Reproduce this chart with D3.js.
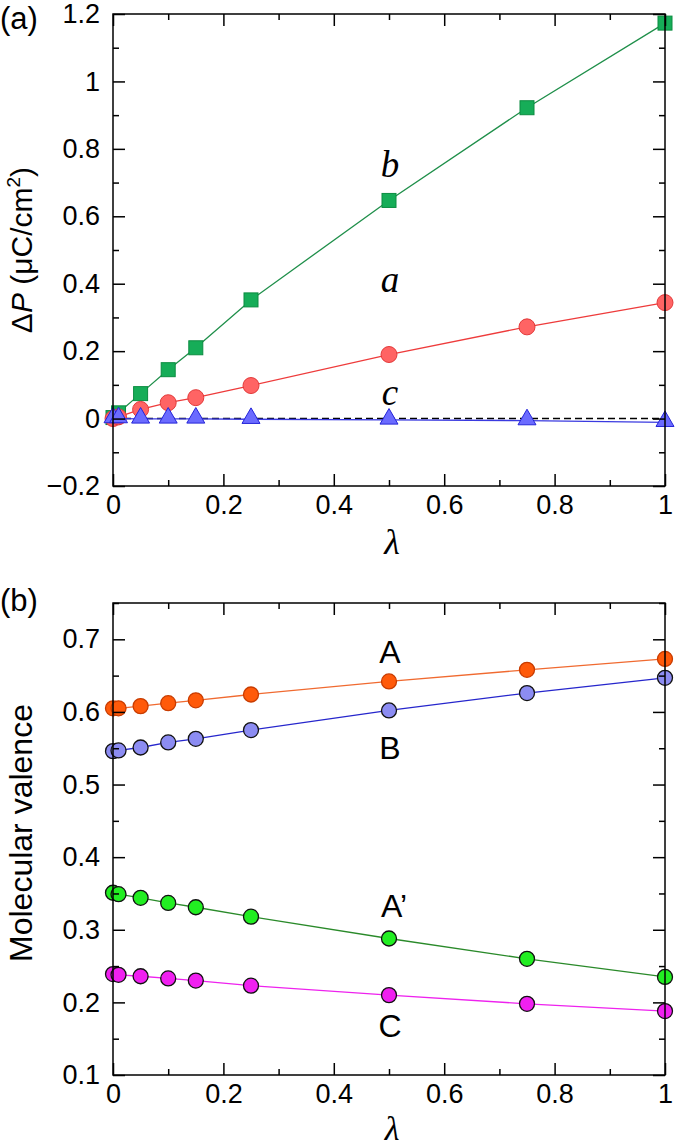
<!DOCTYPE html>
<html>
<head>
<meta charset="utf-8">
<script src="https://cdn.jsdelivr.net/npm/d3@7"></script>
<style>
  body { margin: 0; background: #fff; }
  svg text { font-family: "Liberation Sans", Arial, sans-serif; fill: #000; }
  .tick line { stroke: #000; stroke-width: 1.5; }
  .tick text { font-size: 27px; }
  .serif { font-family: "Liberation Serif", "Times New Roman", serif; font-style: italic; }
</style>
</head>
<body>
<div id="chart"></div>
<script>
// lambda values shared by all series
const lambda = [0, 0.01, 0.05, 0.1, 0.15, 0.25, 0.5, 0.75, 1];

// panel (a): polarization change
const dpA = [0, 0.005, 0.027, 0.047, 0.062, 0.098, 0.19, 0.272, 0.344];
const dpB = [0.003, 0.017, 0.074, 0.145, 0.21, 0.352, 0.647, 0.922, 1.173];
const dpC = [0, 0, -0.001, -0.001, -0.001, -0.002, -0.004, -0.006, -0.011];

// panel (b): molecular valence
const valA = [0.605, 0.605, 0.608, 0.612, 0.616, 0.624, 0.642, 0.658, 0.673];
const valB = [0.546, 0.547, 0.551, 0.558, 0.563, 0.575, 0.602, 0.626, 0.647];
const valA2 = [0.351, 0.349, 0.344, 0.337, 0.331, 0.318, 0.288, 0.260, 0.235];
const valC = [0.239, 0.238, 0.236, 0.233, 0.230, 0.223, 0.210, 0.198, 0.188];

const xTicks = [0, 0.2, 0.4, 0.6, 0.8, 1];
const xMinor = [0.1, 0.3, 0.5, 0.7, 0.9];
const yTicksA = [-0.2, 0, 0.2, 0.4, 0.6, 0.8, 1, 1.2];
const yMinorA = [-0.1, 0.1, 0.3, 0.5, 0.7, 0.9, 1.1];
const yTicksB = [0.1, 0.2, 0.3, 0.4, 0.5, 0.6, 0.7];
const yMinorB = [0.15, 0.25, 0.35, 0.45, 0.55, 0.65, 0.75];

const svg = d3.select('#chart').append('svg')
  .attr('width', 675)
  .attr('height', 1148);

const left = 113, right = 665;

function drawFrame(g, x, y, yTicks, yMinor, yFmt) {
  const w = right - left;
  const [y0, y1] = y.range();
  const h = y0 - y1;

  // bottom
  g.append('g').attr('transform', `translate(0,${y0})`)
    .call(d3.axisBottom(x).tickValues(xTicks).tickSize(-12).tickPadding(9).tickFormat(d3.format('')))
    .call((a) => a.select('.domain').remove());
  g.append('g').attr('transform', `translate(0,${y0})`)
    .call(d3.axisBottom(x).tickValues(xMinor).tickSize(-6).tickFormat(''))
    .call((a) => a.select('.domain').remove());
  // top
  g.append('g').attr('transform', `translate(0,${y1})`)
    .call(d3.axisTop(x).tickValues(xTicks).tickSize(-12).tickFormat(''))
    .call((a) => a.select('.domain').remove());
  g.append('g').attr('transform', `translate(0,${y1})`)
    .call(d3.axisTop(x).tickValues(xMinor).tickSize(-6).tickFormat(''))
    .call((a) => a.select('.domain').remove());
  // left
  g.append('g').attr('transform', `translate(${left},0)`)
    .call(d3.axisLeft(y).tickValues(yTicks).tickSize(-12).tickPadding(13).tickFormat(yFmt))
    .call((a) => a.select('.domain').remove());
  g.append('g').attr('transform', `translate(${left},0)`)
    .call(d3.axisLeft(y).tickValues(yMinor).tickSize(-6).tickFormat(''))
    .call((a) => a.select('.domain').remove());
  // right
  g.append('g').attr('transform', `translate(${right},0)`)
    .call(d3.axisRight(y).tickValues(yTicks).tickSize(-12).tickFormat(''))
    .call((a) => a.select('.domain').remove());
  g.append('g').attr('transform', `translate(${right},0)`)
    .call(d3.axisRight(y).tickValues(yMinor).tickSize(-6).tickFormat(''))
    .call((a) => a.select('.domain').remove());

  g.append('rect')
    .attr('x', left).attr('y', y1)
    .attr('width', w).attr('height', h)
    .attr('fill', 'none').attr('stroke', '#000').attr('stroke-width', 1.5);
}

function drawLine(g, x, y, values, color) {
  const line = d3.line().x((d, i) => x(lambda[i])).y((d) => y(d));
  g.append('path').datum(values)
    .attr('d', line)
    .attr('fill', 'none')
    .attr('stroke', color)
    .attr('stroke-width', 1.3);
}

// ---------- panel (a) ----------
const xA = d3.scaleLinear().domain([0, 1]).range([left, right]);
const yA = d3.scaleLinear().domain([-0.2, 1.2]).range([486, 14]);
const gA = svg.append('g');

gA.append('line')
  .attr('x1', xA(0)).attr('x2', xA(1))
  .attr('y1', yA(0)).attr('y2', yA(0))
  .attr('stroke', '#000').attr('stroke-width', 1.5)
  .attr('stroke-dasharray', '7,4');

drawLine(gA, xA, yA, dpB, '#1f8f4a');
gA.selectAll('.sq').data(dpB).enter().append('rect')
  .attr('x', (d, i) => xA(lambda[i]) - 7)
  .attr('y', (d) => yA(d) - 7)
  .attr('width', 14).attr('height', 14)
  .attr('fill', '#16ad58').attr('stroke', '#0b8c40').attr('stroke-width', 1);

drawLine(gA, xA, yA, dpA, '#ee3b3b');
gA.selectAll('.ci').data(dpA).enter().append('circle')
  .attr('cx', (d, i) => xA(lambda[i]))
  .attr('cy', (d) => yA(d))
  .attr('r', 8)
  .attr('fill', '#ff6464').attr('stroke', '#e23a3a').attr('stroke-width', 1);

drawLine(gA, xA, yA, dpC, '#3a3ae0');
const tri = d3.symbol().type(d3.symbolTriangle).size(140);
gA.selectAll('.tr').data(dpC).enter().append('path')
  .attr('d', tri)
  .attr('transform', (d, i) => `translate(${xA(lambda[i])},${yA(d) - 1})`)
  .attr('fill', '#6b6bff').attr('stroke', '#2424d8').attr('stroke-width', 1);

drawFrame(gA, xA, yA, yTicksA, yMinorA, d3.format(''));

gA.append('text').attr('class', 'serif').attr('x', 390).attr('y', 177)
  .attr('text-anchor', 'middle').attr('font-size', 37).text('b');
gA.append('text').attr('class', 'serif').attr('x', 390).attr('y', 292)
  .attr('text-anchor', 'middle').attr('font-size', 37).text('a');
gA.append('text').attr('class', 'serif').attr('x', 390).attr('y', 405)
  .attr('text-anchor', 'middle').attr('font-size', 37).text('c');

gA.append('text').attr('class', 'serif').attr('x', 392).attr('y', 554)
  .attr('text-anchor', 'middle').attr('font-size', 36).text('λ');

const ylabA = gA.append('text')
  .attr('transform', 'translate(32,250) rotate(-90)')
  .attr('text-anchor', 'middle').attr('font-size', 30);
ylabA.append('tspan').text('Δ');
ylabA.append('tspan').attr('font-style', 'italic').text('P');
ylabA.append('tspan').text(' (μC/cm');
ylabA.append('tspan').attr('font-size', 19).attr('dy', -12).text('2');
ylabA.append('tspan').attr('dy', 12).text(')');

gA.append('text').attr('x', 0).attr('y', 29).attr('font-size', 31).text('(a)');

// ---------- panel (b) ----------
const xB = d3.scaleLinear().domain([0, 1]).range([left, right]);
const yB = d3.scaleLinear().domain([0.1, 0.75]).range([1075, 603]);
const gB = svg.append('g');

const seriesB = [
  { v: valA, line: '#f06a30', fill: '#ff5a0a', edge: '#c83c00' },
  { v: valB, line: '#2626cc', fill: '#8c8cf2', edge: '#111' },
  { v: valA2, line: '#2a8a2a', fill: '#22ee22', edge: '#111' },
  { v: valC, line: '#ee22ee', fill: '#f020f0', edge: '#111' },
];

seriesB.forEach((s) => {
  drawLine(gB, xB, yB, s.v, s.line);
  gB.append('g').selectAll('circle').data(s.v).enter().append('circle')
    .attr('cx', (d, i) => xB(lambda[i]))
    .attr('cy', (d) => yB(d))
    .attr('r', 7.5)
    .attr('fill', s.fill)
    .attr('stroke', s.edge)
    .attr('stroke-width', 1.3);
});

drawFrame(gB, xB, yB, yTicksB, yMinorB, d3.format(''));

gB.append('text').attr('x', 390).attr('y', 663).attr('text-anchor', 'middle').attr('font-size', 32).text('A');
gB.append('text').attr('x', 390).attr('y', 759).attr('text-anchor', 'middle').attr('font-size', 32).text('B');
gB.append('text').attr('x', 394).attr('y', 917).attr('text-anchor', 'middle').attr('font-size', 32).text('A’');
gB.append('text').attr('x', 390).attr('y', 1037).attr('text-anchor', 'middle').attr('font-size', 32).text('C');

gB.append('text').attr('class', 'serif').attr('x', 392).attr('y', 1140)
  .attr('text-anchor', 'middle').attr('font-size', 34).text('λ');

gB.append('text')
  .attr('transform', 'translate(32,833) rotate(-90)')
  .attr('text-anchor', 'middle').attr('font-size', 32)
  .text('Molecular valence');

gB.append('text').attr('x', 0).attr('y', 611).attr('font-size', 31).text('(b)');
</script>
</body>
</html>
